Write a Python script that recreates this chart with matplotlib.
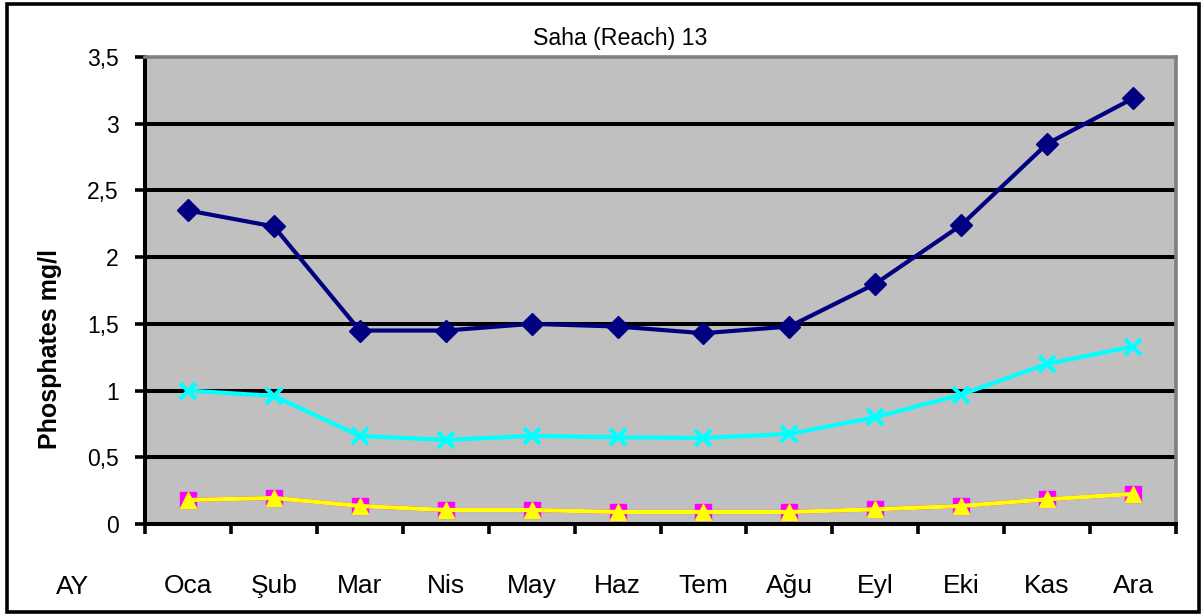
import matplotlib
matplotlib.use("Agg")
import matplotlib.pyplot as plt
from matplotlib.patches import Rectangle
from matplotlib.ticker import FixedLocator, FuncFormatter

plt.rcParams['font.family'] = ['Liberation Sans', 'DejaVu Sans']

months = ["Oca", "Şub", "Mar", "Nis", "May", "Haz", "Tem", "Ağu", "Eyl", "Eki", "Kas", "Ara"]
series_navy = [2.35, 2.23, 1.45, 1.45, 1.50, 1.48, 1.43, 1.48, 1.80, 2.24, 2.85, 3.19]
series_cyan = [1.00, 0.96, 0.66, 0.63, 0.66, 0.65, 0.645, 0.675, 0.80, 0.97, 1.20, 1.33]
series_magenta = [0.18, 0.195, 0.135, 0.105, 0.105, 0.09, 0.09, 0.09, 0.11, 0.135, 0.185, 0.225]
series_yellow = [0.18, 0.195, 0.135, 0.105, 0.105, 0.09, 0.09, 0.09, 0.11, 0.135, 0.185, 0.225]
yticks = [0, 0.5, 1, 1.5, 2, 2.5, 3, 3.5]

W, H = 1204, 616
fig = plt.figure(figsize=(W / 100, H / 100), dpi=100)
fig.patch.set_facecolor("white")

L, R, T, B = 145, 1176, 57, 524
ax = fig.add_axes([L / W, 1 - B / H, (R - L) / W, (B - T) / H])
ax.set_facecolor("#c0c0c0")

x = [i + 0.5 for i in range(len(months))]

ax.plot(x, series_magenta, color="#ff00ff", lw=3, marker="s", ms=11,
        mfc="#ff00ff", mec="#ff00ff", zorder=3, clip_on=False)
ax.plot(x, series_yellow, color="#ffff00", lw=3, marker="^", ms=11,
        mfc="#ffff00", mec="#ffff00", zorder=4, clip_on=False)
ax.plot(x, series_cyan, color="#00ffff", lw=3, marker="x", ms=12, mew=3,
        zorder=5, clip_on=False)
ax.plot(x, series_navy, color="#000080", lw=3, marker="D", ms=11.5,
        mfc="#000080", mec="#000080", zorder=6, clip_on=False)

ax.set_xlim(0, 12)
ax.set_ylim(0, 3.5)

for yv in yticks[1:-1]:
    ax.axhline(yv, color="black", lw=2.9, zorder=1)

ax.set_yticks(yticks)
ax.yaxis.set_major_formatter(FuncFormatter(lambda v, p: ("%g" % v).replace(".", ",")))
ax.tick_params(axis="y", direction="out", length=7, width=2.6, pad=12,
               labelsize=16.5, colors="black")

ax.xaxis.set_major_locator(FixedLocator(list(range(13))))
ax.xaxis.set_minor_locator(FixedLocator(x))
ax.set_xticklabels([])
ax.set_xticklabels(months, minor=True)
ax.tick_params(axis="x", which="major", direction="out", length=7, width=2.6)
ax.tick_params(axis="x", which="minor", length=0, pad=36, labelsize=19)

for s in ["left", "bottom"]:
    ax.spines[s].set_color("black")
    ax.spines[s].set_linewidth(2.9)
for s in ["top", "right"]:
    ax.spines[s].set_color("#808080")
    ax.spines[s].set_linewidth(2.6)

fig.text(73 / W, 1 - 587 / H, "AY", ha="center", va="center", fontsize=19)
fig.text(620 / W, 1 - 38 / H, "Saha (Reach) 13", ha="center", va="center", fontsize=16.7)
fig.text(50 / W, 1 - 349 / H, "Phosphates mg/l", ha="center", va="center",
         rotation=90, fontsize=18, fontweight="bold")

fig.patches.append(Rectangle((7 / W, 4 / H), 1192 / W, 608 / H, transform=fig.transFigure,
                             fill=False, edgecolor="black", lw=2.6, zorder=0))

fig.savefig("out.png", dpi=100, facecolor="white")
